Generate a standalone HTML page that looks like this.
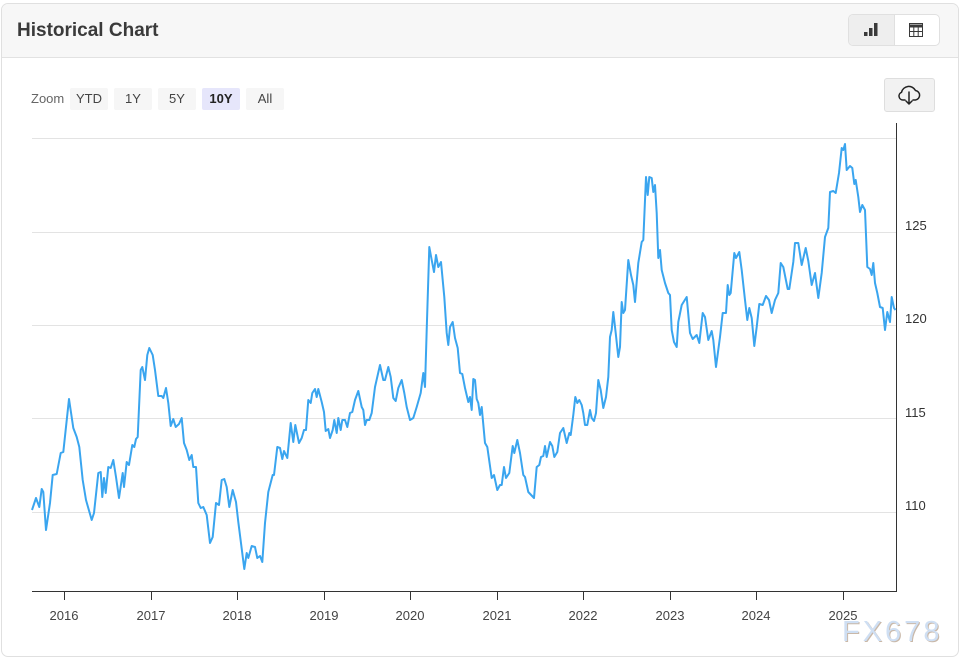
<!DOCTYPE html>
<html><head><meta charset="utf-8"><style>
html,body{margin:0;padding:0;background:#fff;}
body{width:972px;height:670px;position:relative;overflow:hidden;font-family:"Liberation Sans",Arial,sans-serif;}
.card{position:absolute;left:1px;top:3px;width:958px;height:654px;border:1px solid #e0e0e0;border-radius:7px;box-sizing:border-box;overflow:hidden;}
.hdr{position:absolute;left:0;top:0;width:100%;height:53px;background:#f7f7f7;border-bottom:1px solid #e2e2e2;}
.title{position:absolute;left:15px;top:16px;font-size:19px;font-weight:bold;color:#3a3a3a;}
.bg{position:absolute;left:846px;top:10px;width:92px;height:32px;border:1px solid #e0e0e0;border-radius:5px;background:#fff;box-sizing:border-box;overflow:hidden;}
.bg .l{position:absolute;left:0;top:0;width:45px;height:100%;background:#eeeeee;border-right:1px solid #e0e0e0;}
.zoomlbl{position:absolute;left:31px;top:91px;font-size:13px;color:#666;}
.zb{position:absolute;top:88px;height:22px;width:38px;background:#f6f6f6;border-radius:2px;font-size:13px;color:#444;text-align:center;line-height:22px;}
.dl{position:absolute;left:884px;top:78px;width:51px;height:34px;background:#f2f2f2;border:1px solid #dedede;border-radius:3px;box-sizing:border-box;}
.wm{position:absolute;left:842px;top:616px;font-size:29px;letter-spacing:3px;color:#cfdff3;text-shadow:1px 1px 0 #c9b8a8;font-family:"Liberation Sans",Arial,sans-serif;}
</style></head><body>
<div class="card">
<div class="hdr"><div class="title">Historical Chart</div>
<div class="bg"><div class="l"></div></div>
</div>
</div>
<div class="zoomlbl">Zoom</div>
<div class="zb" style="left:70px">YTD</div>
<div class="zb" style="left:114px">1Y</div>
<div class="zb" style="left:158px">5Y</div>
<div class="zb" style="left:202px;background:#e6e6fb;font-weight:bold;color:#222">10Y</div>
<div class="zb" style="left:246px">All</div>
<div class="dl"></div>
<svg style="position:absolute;left:0;top:0" width="972" height="670" viewBox="0 0 972 670">
<!-- header icons -->
<g fill="#3a3a3a">
<rect x="864" y="32" width="3.5" height="4"/>
<rect x="869" y="28" width="3.5" height="8"/>
<rect x="874" y="23" width="3.5" height="13"/>
</g>
<g fill="none" stroke="#3a3a3a" stroke-width="1">
<rect x="909.5" y="23.5" width="13" height="13"/>
<line x1="909.5" y1="26" x2="922.5" y2="26" stroke-width="3"/>
<line x1="909.5" y1="31.5" x2="922.5" y2="31.5"/>
<line x1="913.8" y1="27" x2="913.8" y2="36.5"/>
<line x1="918.2" y1="27" x2="918.2" y2="36.5"/>
</g>
<!-- download icon -->
<g fill="none" stroke="#222" stroke-width="1.5" stroke-linecap="round" stroke-linejoin="round">
<path d="M905,100 H903 A4,4 0 0 1 901.5,92.3 A7.5,7.5 0 0 1 915.5,90.5 A4.8,4.8 0 0 1 915.5,100 H913"/>
<path d="M909,92 V104 M906,101 L909,104 L912,101"/>
</g>
<!-- gridlines -->
<g stroke="#e3e3e3" stroke-width="1">
<line x1="32" y1="138.5" x2="896" y2="138.5"/>
<line x1="32" y1="232.5" x2="896" y2="232.5"/>
<line x1="32" y1="325.5" x2="896" y2="325.5"/>
<line x1="32" y1="418.5" x2="896" y2="418.5"/>
<line x1="32" y1="512.5" x2="896" y2="512.5"/>
</g>
<!-- axes -->
<g stroke="#333" stroke-width="1">
<line x1="32" y1="591.5" x2="896.5" y2="591.5"/>
<line x1="896.5" y1="123" x2="896.5" y2="592"/>
<line x1="64.5" y1="591" x2="64.5" y2="600"/>
<line x1="151.5" y1="591" x2="151.5" y2="600"/>
<line x1="237.5" y1="591" x2="237.5" y2="600"/>
<line x1="324.5" y1="591" x2="324.5" y2="600"/>
<line x1="410.5" y1="591" x2="410.5" y2="600"/>
<line x1="497.5" y1="591" x2="497.5" y2="600"/>
<line x1="583.5" y1="591" x2="583.5" y2="600"/>
<line x1="670.5" y1="591" x2="670.5" y2="600"/>
<line x1="756.5" y1="591" x2="756.5" y2="600"/>
<line x1="843.5" y1="591" x2="843.5" y2="600"/>
</g>
<g font-family="Liberation Sans, Arial, sans-serif" font-size="13" fill="#444" text-anchor="middle">
<text x="64" y="620">2016</text>
<text x="151" y="620">2017</text>
<text x="237" y="620">2018</text>
<text x="324" y="620">2019</text>
<text x="410" y="620">2020</text>
<text x="497" y="620">2021</text>
<text x="583" y="620">2022</text>
<text x="670" y="620">2023</text>
<text x="756" y="620">2024</text>
<text x="843" y="620">2025</text>
</g>
<g font-family="Liberation Sans, Arial, sans-serif" font-size="13" fill="#333">
<text x="905" y="230">125</text>
<text x="905" y="323">120</text>
<text x="905" y="417">115</text>
<text x="905" y="510">110</text>
</g>
<!-- series -->
<polyline fill="none" stroke="#3aa5ef" stroke-width="2" stroke-linejoin="round" points="
32,510 36,498 39.3,507 41.7,489 43.3,492 46,530 50,503 52.7,475 56.7,474 60.7,453 63.3,452 69,399 73.3,428 76.7,437 79.3,447 82.7,480 86,500 91.7,520 94,513 98.3,473 100.7,472 102.3,497 104,478 105.7,493 108.3,467 110.7,468 113.3,460 116,477 119,498 122.7,473 124,487 126.7,462 129,465 132.3,445 134.3,447 136,439 137.7,437 140.7,370 142.3,367 145,380 147.3,355 149.3,348 152.7,355 155,370 158.3,396 161.7,396 163.3,398 166,388 168.3,403 170.7,426 173.3,419 175.7,427 179,424 181.7,418 184,443 186.7,450 189.3,460 191.7,455 193.3,467 196,467 198.3,503 200.7,508 203.3,507 206.7,515 210,543 212.7,537 216,503 219,505 221.7,480 224.3,479 226.7,487 229.3,507 232.7,490 236,502 238.3,522 244.3,569 246.7,553 248.3,558 251.7,546 255,547 257.3,558 260,556 262.3,562 265,523 268.3,492 272.7,475 274,475 277.3,447 280,448 282.3,459 284,451 287.3,458 290.7,423 293.3,442 295.3,425 299,443 301.7,438 304,430 306,430 308.3,400 310.7,403 312.3,393 315,389 316.7,397 318.3,389 321.7,402 324,412 325.7,431 328.3,429 330,438 332.7,430 334.3,420 336.7,433 338.3,418 340.7,430 342.3,420 345,420 347.3,427 350,413 352.3,412 355,400 358.3,391 361.7,407 363.3,410 365,425 366.7,420 369.3,420 371.7,413 375,387 380,365 383.3,380 385,380 388.3,367 390.7,377 393.3,398 395.7,401 398.3,388 401.7,380 404.3,393 406.7,407 410,420 413.3,418 416.7,407 420.7,393 423.3,373 425,387 426.7,330 429.3,247 431.7,260 434,272 436,255 438.3,267 441,262 444.3,297 446.7,333 448.3,345 450,327 452.7,322 455,338 457.7,348 460,373 462.3,374 465,388 468.3,402 470,397 471.7,410 473.3,379 475,380 476.7,399 478.3,403 480,415 481.7,407 485,443 487.3,447 491.7,478 494,475 497.3,490 500,485 501.7,485 504,467 506,478 509.3,473 512.7,446 514.3,453 517.3,440 520,453 523.3,475 525,477 528.3,492 534,498 536.7,467 539.3,465 541,457 543.3,456 545,446 546.7,457 550,442 552.3,446 554.3,457 557.3,452 560,433 563.3,428 566.7,443 569.3,433 570.7,435 573.3,415 575.3,397 577.3,403 579.3,400 581.7,405 583.3,413 585,425 587.3,425 590,410 591.7,418 594,421 596,413 598.3,380 600.7,390 603.3,408 606,397 608.3,377 610,337 611.7,330 613.3,312 615.7,333 618.3,357 620,347 621.7,302 623.3,313 625,310 628.3,260 631,275 633.3,285 635,302 638.3,263 641.7,242 643.3,240 646,177 647.7,195 649.3,177 651.7,178 653.3,192 655,185 656.7,213 658.3,258 660,250 661.7,270 665,283 668.3,293 670,295 671.7,330 674,342 676.7,347 678.3,322 681.7,305 686.7,297 690,333 692.7,339 696.7,335 699.3,343 702.7,313 705,317 708.3,340 711.7,331 713.3,340 716,367 720,337 722.7,313 726,313 727.7,285 729.3,295 730.7,293 734.3,253 736,258 739.3,252 741.7,270 745,300 747.3,320 749.3,308 751.7,318 754.3,346 756.7,327 759.3,304 762.7,305 766,296 769,300 771.7,313 775,300 778.3,293 780.7,263 783.3,267 787.7,289 789.3,289 793.3,262 795,243 798.3,243 801.7,265 805.7,248 808.3,261 811.7,285 815,273 818.3,298 821.7,273 825,237 828.3,228 830,192 833.3,191 835.7,193 839,173 841.7,148 843.3,150 845,144 846.7,170 850,166 852.3,168 854.3,184 855.7,180 858.3,197 860,212 862.3,205 865,210 867.3,267 870,269 871.7,275 873.3,263 875,283 877.3,293 880,307 882.7,308 885,330 887.3,312 890,322 891.7,297 894,308 895.5,310"/>
</svg>
<div class="wm">FX678</div>
</body></html>
